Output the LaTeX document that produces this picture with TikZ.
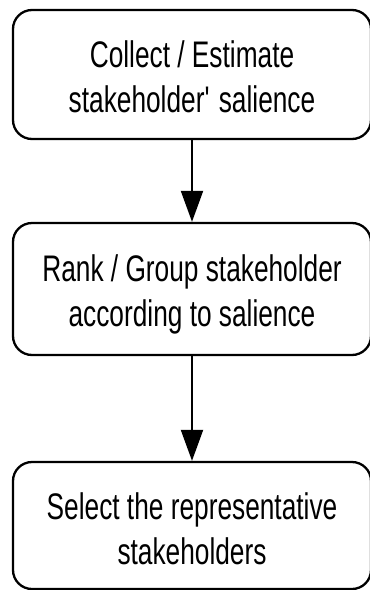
\documentclass[tikz,border=0pt]{standalone}
\usepackage{fontspec}
\setmainfont[FakeStretch=0.71]{Liberation Sans}
\usetikzlibrary{arrows.meta}
\tikzset{
  stepbox/.style={draw=black, line width=2.3pt, rounded corners=19pt, minimum width=358pt, inner sep=0pt},
  steptext/.style={align=center, inner sep=0pt, font=\fontsize{37}{45}\selectfont},
  flowarrow/.style={draw=black, line width=2pt, -{Triangle[length=31pt, width=22pt]}},
}
\begin{document}
\begin{tikzpicture}[x=1pt, y=-1pt]
\useasboundingbox (0,0) rectangle (370,590);
\node[stepbox, minimum height=129pt] (b1) at (192,74.5) {};
\node[stepbox, minimum height=132pt] (b2) at (192,289) {};
\node[stepbox, minimum height=127pt] (b3) at (192,525.5) {};
\node[steptext] (t1) at (192,76.5) {Collect / Estimate\\stakeholder\textquotesingle{} salience};
\node[steptext] (t2) at (192,294) {Rank / Group stakeholder\\according to salience};
\node[steptext] (t3) at (192,529) {Select the representative\\stakeholders};
\draw[flowarrow] (b1.south) -- (b2.north);
\draw[flowarrow] (b2.south) -- (b3.north);
\end{tikzpicture}
\end{document}
